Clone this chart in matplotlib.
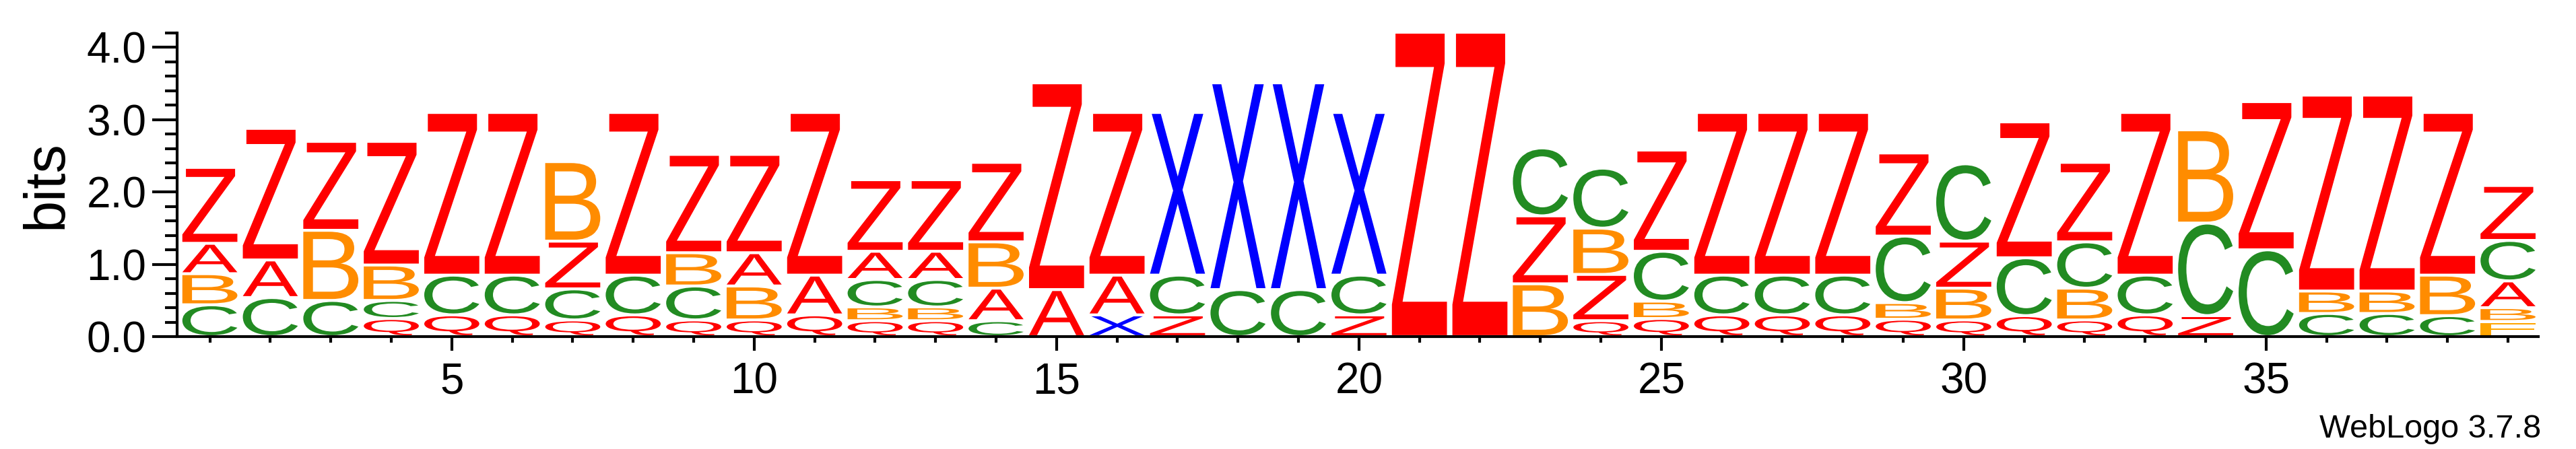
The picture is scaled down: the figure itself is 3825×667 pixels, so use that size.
#!/usr/bin/env python3
"""Sequence logo (WebLogo style) redrawn with matplotlib."""

import matplotlib
matplotlib.use('Agg')
import matplotlib.pyplot as plt
import matplotlib.ticker as ticker
from matplotlib.textpath import TextPath
from matplotlib.font_manager import FontProperties
from matplotlib.patches import PathPatch
from matplotlib.transforms import Affine2D

plt.rcParams.update({
    'font.family': ['Liberation Sans', 'DejaVu Sans'],
})

# ── data: letters bottom -> top, heights in bits ───────────────
positions = list(range(1, 40))
stack_letters = [
    "CBAZ", "CAZ", "CBZ", "QCBZ", "QCZ", "QCZ", "QCZB", "QCZ", "QCBZ", "QBAZ",
    "QAZ", "QBCAZ", "QBCAZ", "CABZ", "AZ", "XAZ", "ZCX", "CX", "CX", "ZCX",
    "Z", "Z", "BZC", "QZBC", "QBCZ", "QCZ", "QCZ", "QCZ", "QBCZ", "QBZC",
    "QCZ", "QBCZ", "QCZ", "ZCB", "CZ", "CBZ", "CBZ", "CBZ", "FBACZ",
]
stack_heights = [
    [0.44, 0.43, 0.42, 1.05], [0.54, 0.52, 1.82], [0.50, 0.97, 1.23],
    [0.25, 0.25, 0.49, 1.71], [0.30, 0.55, 2.25], [0.30, 0.55, 2.25],
    [0.23, 0.43, 0.66, 1.10], [0.30, 0.55, 2.25], [0.23, 0.47, 0.46, 1.36],
    [0.23, 0.47, 0.46, 1.36], [0.30, 0.55, 2.25], [0.22, 0.19, 0.38, 0.39, 0.99],
    [0.22, 0.19, 0.38, 0.39, 0.99], [0.22, 0.45, 0.64, 1.10], [0.65, 2.86],
    [0.30, 0.55, 2.25], [0.30, 0.55, 2.25], [0.65, 2.86], [0.65, 2.86],
    [0.30, 0.55, 2.25], [4.21], [4.21], [0.73, 0.94, 0.94],
    [0.22, 0.64, 0.64, 0.83], [0.25, 0.24, 0.69, 1.40], [0.30, 0.55, 2.25],
    [0.30, 0.55, 2.25], [0.30, 0.55, 2.25], [0.24, 0.23, 0.92, 1.15],
    [0.23, 0.44, 0.65, 1.07], [0.29, 0.80, 1.88], [0.23, 0.44, 0.64, 1.10],
    [0.30, 0.55, 2.25], [0.29, 1.28, 1.29], [1.20, 2.05], [0.32, 0.31, 2.71],
    [0.32, 0.31, 2.71], [0.29, 0.56, 2.25], [0.21, 0.19, 0.37, 0.56, 0.76],
]
ytick_vals = [0, 1, 2, 3, 4]
xtick_vals = [5, 10, 15, 20, 25, 30, 35]

# letter colours
COLORS = {
    'A': '#FF0000', 'Q': '#FF0000', 'Z': '#FF0000',
    'B': '#FF8C00', 'F': '#FFA500',
    'C': '#228B22',
    'X': '#0000FF',
}

FP = FontProperties(family='Liberation Sans')
W = 0.91      # letter width (in position units)
PAD = 0.02    # vertical gap around each letter (bits)


def draw_letter(ax, ch, xc, y0, h):
    tp = TextPath((0, 0), ch, size=1, prop=FP)
    ext = tp.get_extents()
    hh = max(h - 2 * PAD, 0.001)
    tr = (Affine2D()
          .translate(-ext.x0, -ext.y0)
          .scale(W / ext.width, hh / ext.height)
          .translate(xc - W / 2, y0 + PAD))
    path = tr.transform_path(tp)
    ax.add_patch(PathPatch(path, facecolor=COLORS[ch], edgecolor='none',
                           lw=0, clip_on=False))


fig = plt.figure(figsize=(38.25, 6.67), dpi=100)
ax = fig.add_axes([0.06973, 0.25037, 0.91563, 0.6763])

for pos, letters, heights in zip(positions, stack_letters, stack_heights):
    y = 0.0
    for ch, h in zip(letters, heights):
        draw_letter(ax, ch, pos, y, h)
        y += h

ax.set_xlim(0.5, 39.5)
ax.set_ylim(0, 4.2)

for s in ['top', 'right']:
    ax.spines[s].set_visible(False)
ax.spines['left'].set_position(('outward', 2.5))
ax.spines['left'].set_linewidth(3)
ax.spines['bottom'].set_linewidth(3)

ax.yaxis.set_major_locator(ticker.FixedLocator(ytick_vals))
ax.yaxis.set_minor_locator(ticker.MultipleLocator(0.2))
ax.yaxis.set_major_formatter(ticker.FormatStrFormatter('%.1f'))
ax.xaxis.set_major_locator(ticker.FixedLocator(xtick_vals))
ax.xaxis.set_minor_locator(ticker.FixedLocator(positions))

ax.tick_params(axis='y', which='major', length=27, width=3, labelsize=46, pad=6)
ax.tick_params(axis='y', which='minor', length=13, width=3)
ax.tick_params(axis='x', which='major', length=15, width=3, labelsize=46, pad=12)
ax.tick_params(axis='x', which='minor', length=6.5, width=3)

fig.text(70 / 3825, 1 - 274 / 667, 'bits', rotation=90, ha='center',
         va='center', fontsize=61)
fig.text(3773 / 3825, 1 - 650 / 667, 'WebLogo 3.7.8', ha='right',
         va='baseline', fontsize=35)

fig.savefig('out.png', dpi=100, facecolor='white')
